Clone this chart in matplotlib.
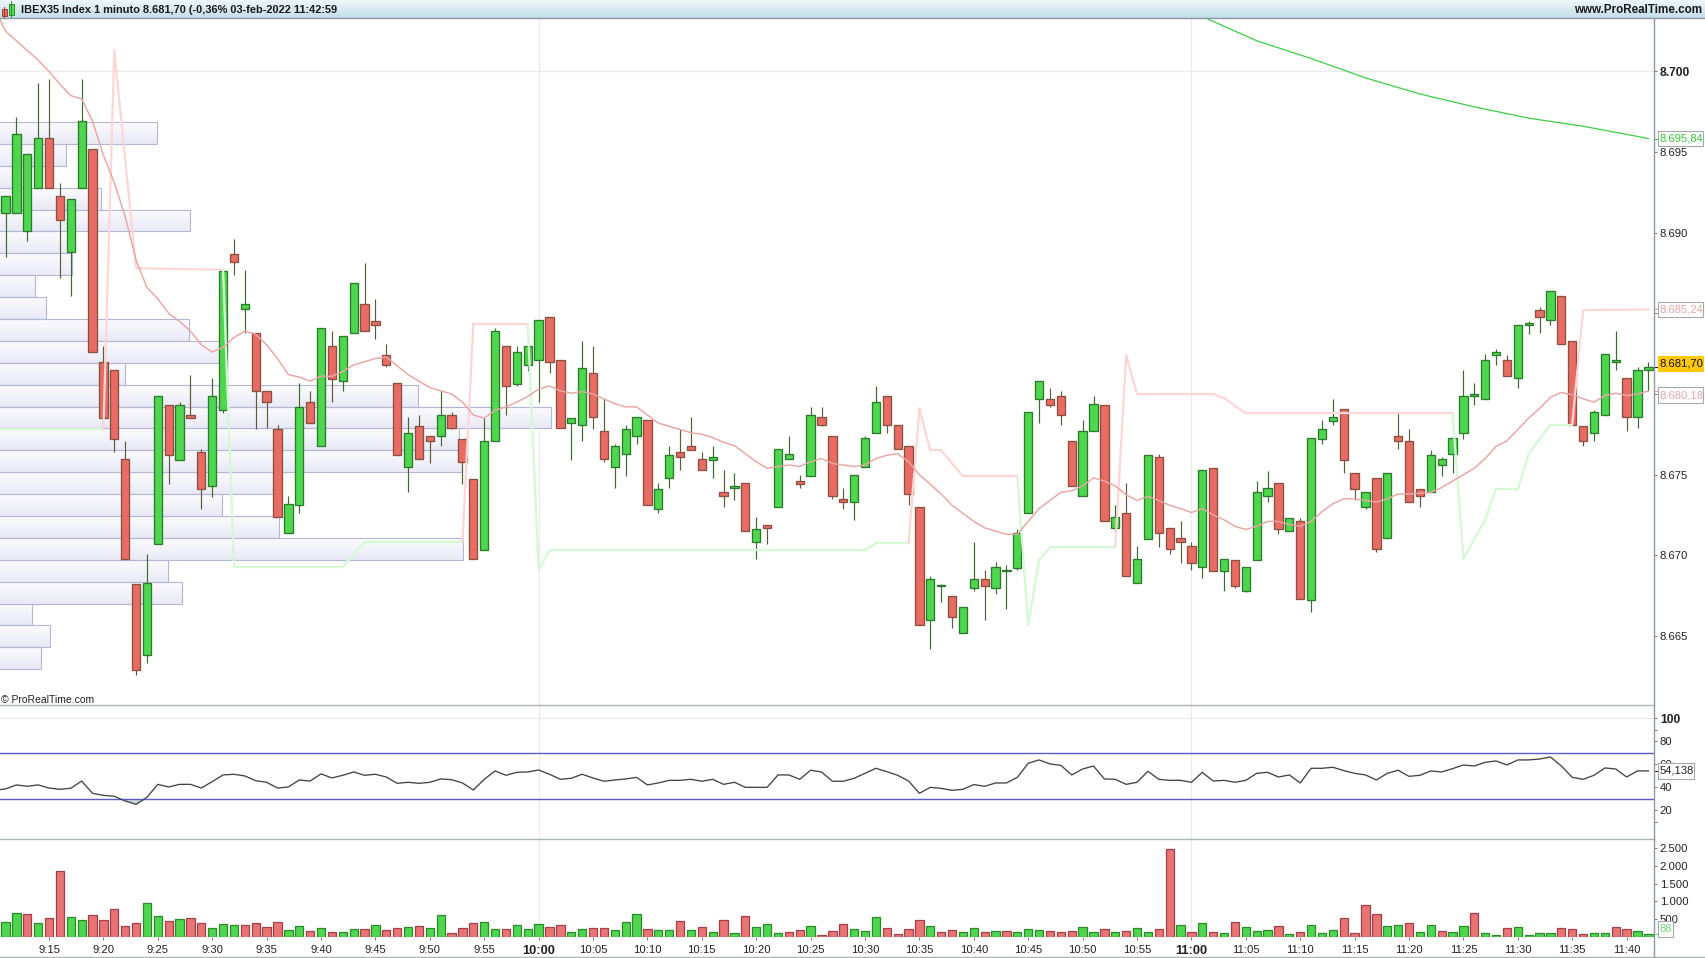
import numpy as np
import matplotlib
matplotlib.use("Agg")
import matplotlib.pyplot as plt
from matplotlib.lines import Line2D
from matplotlib.patches import Rectangle
from matplotlib.colors import LinearSegmentedColormap
from matplotlib.ticker import FixedLocator
from matplotlib.transforms import blended_transform_factory

plt.rcParams['font.family'] = ['Liberation Sans', 'DejaVu Sans']

# ---------------- data ----------------
title = "IBEX35 Index 1 minuto 8.681,70 (-0,36% 03-feb-2022 11:42:59"
site = "www.ProRealTime.com"

opens = [8691.2,8691.2,8690.1,8692.8,8695.9,8692.3,8688.8,8692.8,8695.2,8682.0,8681.5,8676.0,8668.2,8663.8,8670.7,8679.3,8675.9,8678.7,8676.4,8674.3,
         8679.0,8688.7,8685.3,8683.8,8680.2,8677.8,8671.4,8673.1,8679.5,8676.8,8683.0,8680.8,8683.8,8685.6,8684.5,8682.4,8680.7,8675.5,8678.0,8677.4,
         8677.4,8678.7,8677.2,8674.7,8670.3,8677.1,8683.0,8680.6,8681.8,8682.1,8684.8,8682.1,8678.2,8678.1,8681.3,8677.7,8675.5,8676.3,8677.4,8678.4,
         8672.9,8674.8,8676.4,8676.8,8676.0,8675.9,8673.9,8674.2,8674.5,8670.8,8671.9,8673.0,8676.0,8674.6,8674.9,8678.6,8677.4,8673.5,8673.3,8675.5,
         8677.6,8679.9,8678.1,8676.8,8673.0,8666.0,8668.1,8667.5,8665.2,8668.0,8668.5,8668.0,8669.0,8669.2,8672.6,8679.7,8679.7,8679.9,8677.1,8673.7,
         8677.7,8679.3,8671.7,8672.6,8668.3,8671.0,8676.1,8671.7,8671.1,8670.6,8669.3,8675.4,8669.0,8669.7,8667.8,8669.7,8673.7,8674.5,8671.5,8672.1,
         8667.2,8677.2,8678.3,8679.1,8675.1,8673.0,8674.8,8671.1,8677.4,8677.1,8674.1,8673.9,8675.6,8676.3,8677.6,8679.9,8679.7,8682.4,8682.1,8681.0,
         8684.3,8685.2,8684.6,8686.1,8683.3,8678.0,8677.6,8678.7,8682.0,8681.0,8678.6,8681.5]
highs = [8692.3,8697.2,8694.9,8699.3,8699.5,8693.1,8692.1,8699.5,8695.2,8683.0,8681.5,8677.1,8668.2,8670.1,8679.9,8679.3,8679.5,8681.2,8676.6,8681.0,
         8687.6,8689.6,8687.7,8683.8,8680.2,8678.1,8673.7,8680.7,8680.2,8684.1,8683.9,8683.6,8686.9,8688.1,8685.9,8683.1,8680.7,8678.6,8678.7,8677.4,
         8680.2,8678.9,8677.2,8674.7,8678.5,8684.1,8683.0,8683.0,8683.4,8684.6,8684.8,8682.1,8678.5,8683.3,8683.0,8679.7,8676.9,8678.1,8678.6,8678.4,
         8674.5,8676.8,8677.8,8678.6,8676.4,8676.8,8675.3,8675.1,8674.5,8672.4,8671.9,8676.6,8677.4,8675.0,8679.2,8679.2,8677.4,8674.2,8675.0,8677.4,
         8680.5,8679.9,8678.1,8676.8,8673.0,8668.7,8668.2,8667.5,8666.8,8670.8,8669.1,8669.6,8669.4,8671.6,8678.9,8680.8,8680.4,8680.2,8677.1,8678.4,
         8679.9,8679.3,8673.1,8674.5,8670.6,8676.2,8676.3,8671.7,8672.1,8670.8,8675.3,8675.4,8669.8,8669.7,8669.3,8674.6,8675.2,8674.5,8672.3,8672.3,
         8677.3,8678.4,8679.7,8679.1,8675.1,8673.9,8674.8,8675.1,8678.9,8677.8,8674.1,8676.5,8676.1,8677.3,8681.5,8680.7,8682.5,8682.8,8682.4,8684.3,
         8684.5,8685.4,8686.4,8686.1,8683.3,8678.0,8679.0,8682.5,8683.9,8681.0,8681.7,8682.0]
lows =  [8688.5,8691.2,8689.5,8692.8,8692.8,8687.2,8686.1,8692.8,8682.6,8677.8,8676.4,8669.8,8662.6,8663.3,8670.7,8674.4,8675.9,8678.5,8672.9,8673.6,
         8678.8,8687.4,8683.8,8677.8,8677.9,8672.4,8671.4,8672.6,8678.2,8676.8,8679.5,8680.2,8683.8,8683.9,8683.4,8681.7,8676.2,8673.9,8676.0,8675.7,
         8676.8,8677.8,8674.4,8669.8,8670.3,8677.1,8678.7,8680.5,8681.4,8679.5,8681.3,8677.9,8675.9,8677.1,8677.8,8675.8,8674.2,8674.9,8676.9,8673.1,
         8672.6,8674.2,8675.3,8676.5,8675.3,8674.8,8673.0,8673.4,8671.5,8669.8,8670.7,8673.0,8676.0,8674.2,8674.9,8678.0,8673.5,8672.9,8672.2,8675.5,
         8677.6,8677.6,8676.6,8673.1,8665.7,8664.2,8667.1,8665.5,8665.2,8667.8,8666.0,8667.6,8666.7,8669.1,8672.6,8678.2,8679.2,8678.1,8674.3,8673.7,
         8677.7,8672.1,8671.4,8668.7,8668.3,8671.0,8670.5,8670.1,8669.5,8669.1,8668.6,8669.0,8667.8,8668.0,8667.7,8669.7,8673.3,8671.3,8671.5,8667.3,
         8666.5,8676.9,8678.1,8675.1,8673.4,8672.9,8670.2,8671.1,8676.6,8673.3,8673.0,8673.9,8674.9,8675.1,8677.2,8679.3,8679.7,8681.8,8681.1,8680.4,
         8683.7,8683.8,8684.3,8683.1,8678.1,8676.8,8677.1,8678.7,8681.5,8677.7,8677.9,8680.2]
closes = [8692.3,8696.1,8694.9,8695.9,8692.8,8690.8,8692.1,8696.9,8682.6,8678.5,8677.2,8669.8,8662.9,8668.3,8679.9,8676.2,8679.3,8678.5,8674.1,8679.9,
          8687.6,8688.2,8685.6,8680.2,8679.5,8672.4,8673.2,8679.2,8678.2,8684.1,8680.9,8683.6,8686.9,8683.9,8684.3,8681.8,8676.2,8677.6,8676.0,8677.1,
          8678.7,8677.9,8675.8,8669.8,8677.1,8683.9,8680.5,8682.6,8683.0,8684.6,8682.0,8677.9,8678.5,8681.6,8678.6,8676.0,8676.8,8677.8,8678.6,8673.1,
          8674.1,8676.2,8676.1,8676.5,8675.3,8676.1,8673.7,8674.2,8671.5,8671.6,8671.7,8676.6,8676.3,8674.4,8678.7,8678.1,8673.7,8673.3,8675.0,8677.3,
          8679.5,8678.1,8676.6,8673.8,8665.7,8668.5,8668.1,8666.2,8666.8,8668.5,8668.1,8669.3,8669.0,8671.4,8678.9,8680.8,8679.3,8678.7,8674.3,8677.7,
          8679.4,8672.1,8672.4,8668.7,8669.8,8676.2,8671.4,8670.4,8670.8,8669.5,8675.3,8669.0,8669.8,8668.1,8669.3,8673.9,8674.2,8671.6,8672.3,8667.3,
          8677.3,8677.8,8678.6,8675.9,8674.1,8673.9,8670.4,8675.1,8677.1,8673.3,8673.7,8676.2,8676.0,8677.3,8679.9,8679.9,8682.1,8682.6,8681.1,8684.3,
          8684.4,8684.8,8686.4,8683.1,8678.1,8677.1,8678.9,8682.5,8682.0,8678.6,8681.5,8681.7]

ma_fast = [8703.9,8702.5,8701.9,8701.3,8700.7,8700.0,8699.2,8698.5,8698.3,8696.9,8694.8,8693.1,8691.0,8688.3,8686.6,8685.9,8685.0,8684.5,8683.9,8683.05,
           8682.6,8682.9,8683.5,8683.9,8683.7,8683.05,8682.2,8681.2,8681.05,8680.8,8681.1,8681.1,8681.4,8681.8,8682.0,8682.2,8682.3,8681.75,8681.2,8680.8,
           8680.4,8680.2,8680.0,8679.5,8678.7,8678.5,8679.0,8679.2,8679.5,8679.85,8680.3,8680.5,8680.2,8680.05,8680.15,8680.0,8679.7,8679.4,8679.2,8679.2,
           8678.7,8678.2,8678.0,8677.8,8677.6,8677.5,8677.3,8677.0,8676.8,8676.3,8675.8,8675.4,8675.5,8675.6,8675.5,8675.8,8676.0,8675.7,8675.6,8675.5,
           8675.6,8676.0,8676.2,8676.3,8675.8,8675.0,8674.4,8673.8,8673.1,8672.6,8672.1,8671.7,8671.5,8671.3,8671.3,8672.1,8672.9,8673.4,8673.9,8674.0,
           8674.3,8674.8,8674.6,8674.3,8673.75,8673.4,8673.65,8673.4,8673.1,8672.9,8672.65,8672.9,8672.5,8672.2,8671.8,8671.6,8671.8,8672.1,8672.1,8671.9,
           8671.8,8672.1,8672.7,8673.2,8673.5,8673.5,8673.4,8673.3,8673.5,8673.8,8673.8,8673.85,8673.9,8674.2,8674.6,8675.0,8675.4,8676.0,8676.75,8677.1,
           8677.8,8678.5,8679.1,8679.8,8680.1,8679.95,8679.7,8679.5,8679.9,8680.05,8679.9,8680.0,8680.18]

ma_slow_bars = [110,115,120,125,130,135,140,145,151]
ma_slow = [8703.4,8701.9,8700.8,8699.6,8698.6,8697.8,8697.1,8696.6,8695.84]

band_bars = [-1,9,10,12,20,21,31,33,42,43,48,49,50,79,80,83,84,85,86,88,93,94,95,96,102,103,104,111,112,114,133,134,136,137,139,140,142,144,145,151]
band_vals = [8677.8,8677.8,8701.3,8687.8,8687.7,8669.3,8669.3,8670.8,8670.8,8684.35,8684.35,8669.1,8670.3,8670.3,8670.75,8670.75,8679.1,8676.5,8676.5,8674.9,
             8674.9,8665.7,8669.7,8670.5,8670.5,8682.4,8680.0,8680.0,8679.75,8678.8,8678.8,8669.8,8672.2,8674.1,8674.1,8676.3,8678.1,8678.1,8685.2,8685.24]
band_side = "ll" "uuu" "llll" "uu" "lllll" "uuuuu" "llll" "uuuuuu" "lllllll" "uu"

profile_low = 8662.94
profile_step = 1.357
profile_vals = [40.5,50,32.5,182,168,463,279,222,274,462,459,551.5,418,125,219,188.7,45.7,34.7,72,71,190,101,28,65.7,156.7]

rsi = [37.2,38.4,41.9,40.7,41.9,39.2,38.1,39.0,45.3,34.6,32.8,32.0,27.9,25.0,31.1,42.4,40.1,42.4,42.4,39.2,
       44.8,50.6,51.2,49.7,45.6,44.2,39.2,40.1,46.2,45.3,51.5,48.0,50.3,53.2,50.3,51.2,48.8,43.3,44.2,43.3,
       44.2,47.1,46.5,43.6,37.5,46.8,54.1,50.3,52.9,53.2,54.9,51.2,46.8,47.7,51.2,48.0,
       45.1,46.2,47.1,48.5,41.9,43.6,45.9,45.9,46.8,45.1,46.8,42.4,44.2,39.8,39.8,39.8,50.6,50.6,46.8,54.7,
       53.2,45.1,45.1,47.7,52.0,56.4,53.5,50.3,45.3,34.6,39.8,38.9,37.2,38.1,42.2,40.7,43.6,43.6,48.5,60.8,
       63.7,60.2,59.0,50.6,55.8,58.4,47.1,46.8,42.4,44.2,53.8,46.8,45.9,45.9,44.2,
       52.9,45.3,45.9,44.2,45.9,52.0,52.9,48.8,50.6,43.6,56.4,56.4,57.3,54.4,52.0,50.6,46.2,52.0,54.7,
       49.4,50.3,54.1,53.2,56.1,59.3,58.4,61.6,62.8,59.3,63.7,63.7,64.5,66.3,58.4,48.5,46.8,50.3,56.7,55.8,48.8,54.1,54.138]

volume = [418,669,641,390,530,1840,558,474,613,474,781,307,390,948,586,446,502,530,390,251,
          362,335,335,390,279,418,195,307,167,251,139,139,223,223,335,195,251,279,307,251,
          613,112,251,390,418,223,223,335,223,362,279,335,139,223,251,251,195,418,641,223,
          195,195,446,195,279,139,474,112,586,279,362,112,139,195,307,56,167,362,223,167,
          558,251,84,223,474,307,139,195,139,251,139,167,167,139,223,195,167,139,167,279,
          139,223,139,167,251,139,223,2463,335,139,390,139,112,418,279,167,195,307,84,139,
          335,112,195,530,112,892,641,307,335,390,139,335,167,139,307,669,112,56,251,279,
          56,112,112,251,223,84,112,112,279,223,167,88]
vol_side = ("ggrgrrggrr" "rrrggrgrrg" "ggrrrrggrg" "rggrgrrgrg" "grrrggrggg" "rrggrrgggr" "ggrgrgrgrg" "ggrrgrrrgg"
            "grrrrgrrgg" "rgrgggrrrg" "grgrggrrgr" "grgrgggrgr" "gggrrrrggr" "ggrggrggrg" "gggrrrggrr" "gg")

time_labels = ["9:15","9:20","9:25","9:30","9:35","9:40","9:45","9:50","9:55","10:00","10:05","10:10","10:15","10:20","10:25","10:30",
               "10:35","10:40","10:45","10:50","10:55","11:00","11:05","11:10","11:15","11:20","11:25","11:30","11:35","11:40"]
time_bars = list(range(4, 150, 5))
hour_bars = [49, 109]
price_ticks = [8665, 8670, 8675, 8680, 8685, 8690, 8695, 8700]
price_labels = ["8.665","8.670","8.675","","","8.690","8.695","8.700"]
rsi_ticks = [20, 40, 60, 80, 100]
vol_ticks = [500, 1000, 1500, 2000, 2500]
vol_labels = ["500","1.000","1.500","2.000","2.500"]

# ---------------- layout ----------------
W, H = 1706, 958
fig = plt.figure(figsize=(W/100, H/100), dpi=100, facecolor='white')
def px_axes(x0, y0, x1, y1, **kw):
    return fig.add_axes([x0/W, 1-y1/H, (x1-x0)/W, (y1-y0)/H], **kw)
px = 0.72
PRICE_Y = (18, 705); RSI_Y = (705, 839.3); VOL_Y = (839.3, 937.3); RIGHT = 1654
bar_x0 = 5.5; bar_dx = 10.88
xlim = ((0-bar_x0)/bar_dx, (RIGHT-bar_x0)/bar_dx)
bars = np.arange(len(opens))
TXT = '#222222'; AX = '#8c9aa4'; GRID = '#e8ebee'; BOX = '#a8a8a8'
FS = 11*px + 0.2

# header
hd = px_axes(0, 0, W, 18); hd.axis('off')
hd.imshow(np.linspace(0, 1, 32)[:, None], cmap=LinearSegmentedColormap.from_list('h', ['#eef7fa', '#c4dee8']),
          extent=[0, W, 18, 0], aspect='auto')
hd.add_patch(Rectangle((2, 9), 5, 7, fc='#e86a60', ec='#a04040', lw=0.7))
hd.add_patch(Rectangle((9, 4), 5, 11, fc='#50e050', ec='#309030', lw=0.7))
hd.plot([4.5, 4.5], [7, 18], color='#a04040', lw=0.7); hd.plot([11.5, 11.5], [1, 17], color='#309030', lw=0.7)
hd.set_xlim(0, W); hd.set_ylim(18, 0)
hd.text(21, 10, title, fontsize=7.92, fontweight='bold', color='#1a1a1a', va='center', ha='left')
hd.text(1702, 10, site, fontsize=8.4, fontweight='bold', color='#1a1a1a', va='center', ha='right')

# price panel
ax = px_axes(0, PRICE_Y[0], RIGHT, PRICE_Y[1])
y2p = lambda y: 8670 + (555.3 - y)/16.13
ax.set_xlim(*xlim); ax.set_ylim(y2p(PRICE_Y[1]), y2p(PRICE_Y[0]))
ax.axhline(8700, color=GRID, lw=0.9, zorder=0.5)
cm = LinearSegmentedColormap.from_list('p', ['#fbfbfe', '#e9eaf6'])
prof_trans = blended_transform_factory(ax.transAxes, ax.transData)
for k, w in enumerate(profile_vals):
    lo = profile_low + k*profile_step
    f = w/RIGHT
    ax.imshow(np.linspace(0, 1, 16)[:, None], cmap=cm, aspect='auto', zorder=1,
              extent=[0, f, lo, lo+profile_step], transform=prof_trans)
    ax.add_patch(Rectangle((-0.01, lo), f+0.01, profile_step, fc='none', ec='#b4b6d6', lw=0.8,
                           transform=prof_trans, zorder=1.1))
ax.set_xlim(*xlim); ax.set_ylim(y2p(PRICE_Y[1]), y2p(PRICE_Y[0]))

G_F, G_E = '#4fd64f', '#2c7a2c'
R_F, R_E = '#e86c64', '#8a5040'
for i, o, h, l, c in zip(bars, opens, highs, lows, closes):
    up = c >= o
    ec = G_E if up else R_E
    ax.vlines(i, l, h, color='#3d6a30' if up else '#5c5c38', lw=0.85, zorder=2)
    ax.bar(i, max(abs(c-o), 0.08), bottom=min(o, c), width=0.76, color=G_F if up else R_F,
           edgecolor=ec, lw=0.95, zorder=3)

PINK, MINT = '#fdd6d6', '#d4f9d4'
for k in range(len(band_bars)-1):
    ax.plot(band_bars[k:k+2], band_vals[k:k+2], color=PINK if band_side[k+1] == 'u' else MINT,
            lw=1.6, zorder=4, solid_capstyle='round')
ax.plot(np.arange(-1, len(ma_fast)-1), ma_fast, color='#e9a6a4', lw=1.05, zorder=5)
ax.plot(ma_slow_bars, ma_slow, color='#3bcf45', lw=0.9, zorder=5)

# RSI panel
ar = px_axes(0, RSI_Y[0], RIGHT, RSI_Y[1])
y2r = lambda y: 100 - (y - 718.3)/1.1467
ar.set_xlim(*xlim); ar.set_ylim(y2r(RSI_Y[1]), y2r(RSI_Y[0]))
ar.axhline(100, color=GRID, lw=0.9, zorder=0.5)
ar.axhline(70, color='#5a5ad6', lw=1.0, zorder=2); ar.axhline(30, color='#5a5ad6', lw=1.0, zorder=2)
rx = np.arange(-1, len(rsi)-1); rv = np.array(rsi)
ar.fill_between(rx, rv, 30, where=rv < 30, interpolate=True, color='#c8dcdc', zorder=1.5, lw=0)
ar.plot(rx, rv, color='#444444', lw=0.95, zorder=3)

# volume panel
av = px_axes(0, VOL_Y[0], RIGHT, VOL_Y[1])
av.set_xlim(*xlim); av.set_ylim(0, (VOL_Y[1]-VOL_Y[0])*500/17.93)
av.bar(bars, volume, width=0.76, lw=0.9, zorder=2,
       color=[G_F if s == 'g' else '#ea7474' for s in vol_side],
       edgecolor=['#2c8a2c' if s == 'g' else '#a04048' for s in vol_side])

for a in (ax, ar, av):
    for s in a.spines.values():
        s.set_visible(False)
    a.patch.set_alpha(0)
    for b in hour_bars:
        a.axvline(b, color=GRID, lw=0.9, zorder=0.4)
    a.yaxis.tick_right()
    a.tick_params(axis='y', which='both', length=3*px, width=0.7, color='#777777', labelsize=FS, labelcolor=TXT, pad=2)
    a.tick_params(axis='x', which='both', bottom=False, labelbottom=False)

ax.set_yticks(price_ticks); ax.set_yticklabels(price_labels)
ar.set_yticks(rsi_ticks); ar.set_yticklabels([str(v) for v in rsi_ticks])
ar.yaxis.set_minor_locator(FixedLocator([10, 90]))
av.set_yticks(vol_ticks); av.set_yticklabels(vol_labels)
for t in ax.get_yticklabels():
    if t.get_text() == "8.700":
        t.set_fontweight('bold'); t.set_fontsize(FS+0.5)
for t in ar.get_yticklabels():
    if t.get_text() == "100":
        t.set_fontweight('bold'); t.set_fontsize(FS+0.5)
av.tick_params(axis='x', bottom=True, labelbottom=True, length=3*px, width=0.7, color='#777777', labelsize=FS, labelcolor=TXT, pad=3.3)
av.set_xticks(time_bars); av.set_xticklabels(time_labels)
for t, b in zip(av.get_xticklabels(), time_bars):
    if b in hour_bars:
        t.set_fontweight('bold'); t.set_fontsize(FS+1.2)

def tag(a, v, s, color, width, dy=0, fc='white', ec=BOX):
    tr = blended_transform_factory(a.transAxes, a.transData)
    a.plot([1, (RIGHT+4)/RIGHT], [v, v], transform=tr, color=color, lw=0.8, clip_on=False, zorder=8)
    yc = H - a.transData.transform((0, v))[1] + dy   # px from top
    fig.add_artist(Rectangle((1658.5/W, 1-(yc+7.8)/H), width/W, 15.6/H, transform=fig.transFigure,
                             fc=fc, ec=ec, lw=0.8, zorder=5))
    fig.text(1660/W, 1-yc/H, s, fontsize=FS, color=color, va='center', ha='left', zorder=6)

tag(ax, ma_slow[-1], "8.695,84", '#35c43a', 45)
tag(ax, 8685.24, "8.685,24", '#e8a5a5', 45)
tag(ax, closes[-1], "8.681,70", '#111111', 45, dy=-3, fc='#ffc90a', ec='#ffc90a')
tag(ax, ma_fast[-1], "8.680,18", '#e8a5a5', 45, dy=4)
tag(ar, rsi[-1], "54,138", '#222222', 36)
tag(av, volume[-1], "88", '#6fd87a', 14.5, dy=-5)

fig.text(1/W, 1-699.6/H, "\u00a9 ProRealTime.com", fontsize=7.5, color=TXT, va='center', ha='left')

# frame lines
def fline(x0, y0, x1, y1, c, lw=1.0):
    fig.add_artist(Line2D([x0/W, x1/W], [1-y0/H, 1-y1/H], color=c, lw=lw, zorder=4))
fline(0, 705, RIGHT, 705, '#a9b6b4')
fline(0, 839.3, RIGHT, 839.3, '#a9b6b4')
fline(0, 956.7, W, 956.7, '#a9b6b4')
fline(0, 18, W, 18, '#8899a2')
fline(RIGHT, 18, RIGHT, 957, AX)

fig.savefig("out.png", dpi=100)
